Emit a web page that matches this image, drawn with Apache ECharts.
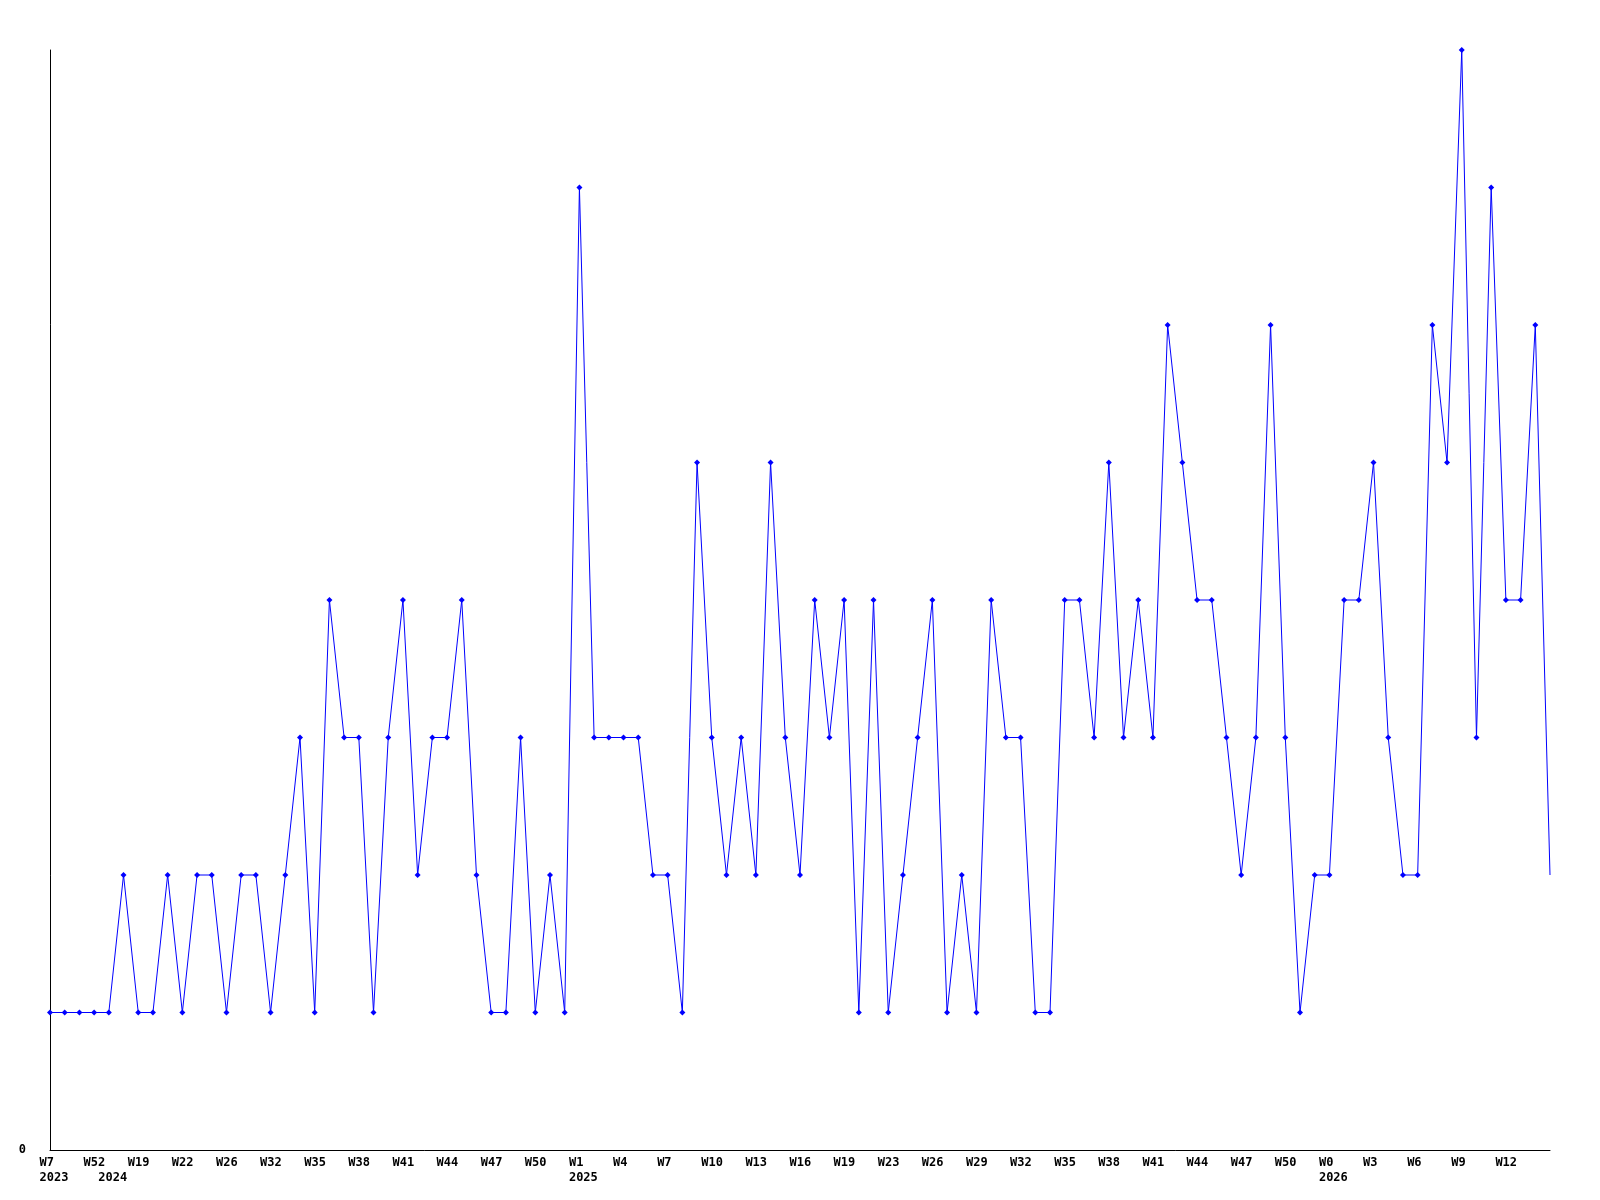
<!DOCTYPE html>
<html>
<head>
<meta charset="utf-8">
<title>Weekly count</title>
<script src="https://cdn.jsdelivr.net/npm/echarts@6/dist/echarts.min.js"></script>
<style>
  html, body { margin: 0; padding: 0; background: #fff; }
  #chart { width: 1600px; height: 1200px; }
</style>
</head>
<body>
<div id="chart"></div>
<script>
// week labels shown under every third point
const weekLabels = ["W7", "W52", "W19", "W22", "W26", "W32", "W35", "W38", "W41", "W44", "W47", "W50",
  "W1", "W4", "W7", "W10", "W13", "W16", "W19", "W23", "W26", "W29", "W32", "W35",
  "W38", "W41", "W44", "W47", "W50", "W0", "W3", "W6", "W9", "W12"];
// year shown on second line, keyed by point index where the year starts
const yearLabels = { 0: "2023", 4: "2024", 36: "2025", 87: "2026" };

// counts per week
const counts = [
  1, 1, 1, 1, 1, 2, 1, 1, 2, 1, 2, 2, 1, 2, 2, 1, 2, 3, 1, 4,
  3, 3, 1, 3, 4, 2, 3, 3, 4, 2, 1, 1, 3, 1, 2, 1, 7, 3, 3, 3,
  3, 2, 2, 1, 5, 3, 2, 3, 2, 5, 3, 2, 4, 3, 4, 1, 4, 1, 2, 3,
  4, 1, 2, 1, 4, 3, 3, 1, 1, 4, 4, 3, 5, 3, 4, 3, 6, 5, 4, 4,
  3, 2, 3, 6, 3, 1, 2, 2, 4, 4, 5, 3, 2, 2, 6, 5, 8, 3, 7, 4,
  4, 6, 2
];

const categories = counts.map((_, i) => {
  const k = i / 3;
  const week = i % 3 === 0 && k < weekLabels.length ? weekLabels[k] : "";
  const year = yearLabels[i] || "";
  if (!week && !year) return "";
  return year ? (week || " ") + "\n" + year : week;
});

const chart = echarts.init(document.getElementById("chart"), null, { renderer: "canvas" });

const labelFont = {
  fontFamily: "DejaVu Sans Mono",
  fontWeight: "bold",
  fontSize: 12,
  color: "#000",
};

const option = {
  animation: false,
  backgroundColor: "#ffffff",
  grid: { left: 50, right: 50, top: 50, bottom: 50 },
  xAxis: {
    type: "category",
    data: categories,
    boundaryGap: false,
    axisLine: { lineStyle: { color: "#000", width: 1 } },
    axisTick: { show: false },
    axisLabel: {
      interval: 0,
      margin: 5,
      formatter: (v) =>
        v ? v.split("\n").map((s) => "{a|" + s + "}").join("\n") : "",
      rich: {
        a: Object.assign({ width: 21, align: "left", lineHeight: 15, height: 15 }, labelFont),
      },
    },
    splitLine: { show: false },
  },
  yAxis: {
    type: "value",
    min: 0,
    max: 8,
    interval: 8,
    axisLine: { show: true, lineStyle: { color: "#000", width: 1 } },
    axisTick: { show: false },
    axisLabel: Object.assign({ showMaxLabel: false, margin: 24 }, labelFont),
    splitLine: { show: false },
  },
  series: [
    {
      type: "line",
      data: counts.map((v, i) =>
        i === counts.length - 1 ? { value: v, symbol: "none" } : v
      ),
      symbol: "diamond",
      symbolSize: 6,
      showAllSymbol: true,
      itemStyle: { color: "#0000ff" },
      lineStyle: { color: "#0000ff", width: 1 },
    },
  ],
};

chart.setOption(option);
</script>
</body>
</html>
